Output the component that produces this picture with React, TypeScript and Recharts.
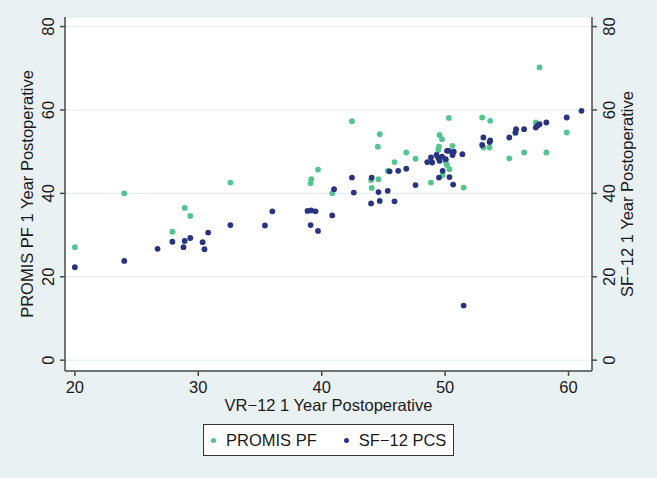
import { ScatterChart, Scatter, XAxis, YAxis, CartesianGrid, Legend } from "recharts";

// VR-12 score for each patient (x), with the two comparison scores (null = not plotted)
const vr12 = [
  20.0, 24.0, 26.7, 27.9, 28.8, 28.9, 29.35, 30.35, 30.5, 30.8,
  32.6, 35.4, 36.0, 38.85, 39.1, 39.15, 39.5, 39.7, 40.85, 41.0,
  42.45, 42.6, 44.0, 44.05, 44.55, 44.6, 44.7, 45.35, 45.5, 45.9,
  46.2, 46.85, 47.6, 48.55, 48.85, 48.95, 49.3, 49.45, 49.5, 49.55,
  49.75, 49.8, 50.05, 50.15, 50.3, 50.35, 50.6, 50.7, 50.65, 51.4,
  51.5, 53.0, 53.1, 53.6, 53.65, 55.2, 55.7, 55.75, 56.4, 57.35,
  57.5, 57.65, 58.2, 59.85, 61.05,
];

const promisPF = [
  27.1, 40.0, null, 30.8, null, 36.5, 34.6, null, null, null,
  42.6, null, null, null, 42.4, 43.4, null, 45.7, 40.0, null,
  57.3, null, 43.2, 41.3, 51.2, 43.4, 54.2, 45.4, null, 47.5,
  null, 49.8, 48.3, null, 42.6, null, null, 50.4, 51.2, 54.0,
  53.0, 44.4, 47.6, 46.8, 58.1, 45.8, 51.4, null, null, null,
  41.4, 58.2, 51.0, 51.0, 57.4, 48.4, 54.5, null, 49.8, 57.0,
  null, 70.2, 49.8, 54.6, null,
];

const sf12PCS = [
  22.3, 23.8, 26.7, 28.4, 27.1, 28.6, 29.3, 28.3, 26.6, 30.6,
  32.4, 32.3, 35.7, 35.8, 32.4, 35.9, 35.7, 31.0, 34.7, 41.0,
  43.8, 40.2, 37.6, 43.8, null, 40.3, 38.2, 40.6, 45.3, 38.1,
  45.4, 45.9, 42.0, 47.5, 48.6, 47.4, 49.2, 48.5, 43.8, 47.8,
  48.8, 45.4, 48.2, 50.2, 50.2, 43.9, 49.2, 50.0, 42.1, 49.4,
  13.1, 51.6, 53.4, 52.3, 52.7, 53.4, 54.6, 55.4, 55.4, 55.8,
  56.3, 56.6, 57.0, 58.2, 59.8,
];

const xTicks = [20, 30, 40, 50, 60];
const yTicks = [0, 20, 40, 60, 80];

const GREEN = "#52c58e";
const NAVY = "#283382";
const BG = "#eaf1f2";
const AXIS = "#4a4a4a";
const TEXT = "#1a1a1a";
const FONT = '"Liberation Sans", Arial, Helvetica, sans-serif';
const FS = 16.5;

const promisData = vr12
  .map((x, i) => ({ x, y: promisPF[i] }))
  .filter((d) => d.y !== null);
const sfData = vr12
  .map((x, i) => ({ x, y: sf12PCS[i] }))
  .filter((d) => d.y !== null);

const XTick = (props: any) => (
  <text x={props.x} y={props.y + 17} textAnchor="middle" fill={TEXT} fontSize={FS} fontFamily={FONT}>
    {props.payload.value}
  </text>
);

const LeftTick = (props: any) => (
  <text
    transform={`translate(${props.x - 6},${props.y}) rotate(-90)`}
    textAnchor="middle"
    fill={TEXT}
    fontSize={FS}
    fontFamily={FONT}
  >
    {props.payload.value}
  </text>
);

const RightTick = (props: any) => (
  <text
    transform={`translate(${props.x + 18},${props.y}) rotate(-90)`}
    textAnchor="middle"
    fill={TEXT}
    fontSize={FS}
    fontFamily={FONT}
  >
    {props.payload.value}
  </text>
);

const dot = (color: string) => (p: any) => <circle cx={p.cx} cy={p.cy} r={2.9} fill={color} />;

function LegendBox({ payload }: any) {
  const items = payload && payload.length ? payload : [
    { value: "PROMIS PF", color: GREEN },
    { value: "SF−12 PCS", color: NAVY },
  ];
  return (
    <div
      style={{
        boxSizing: "border-box",
        width: 251,
        height: 32,
        border: "1.5px solid #333",
        background: "#fff",
        display: "flex",
        alignItems: "center",
        paddingLeft: 7,
        fontFamily: FONT,
        fontSize: FS,
        color: TEXT,
      }}
    >
      {items.map((entry: any, index: number) => (
        <div key={index} style={{ display: "flex", alignItems: "center", marginRight: index === 0 ? 27 : 0 }}>
          <span
            style={{ width: 5, height: 5, borderRadius: "50%", background: entry.color, marginRight: 10 }}
          />
          <span>{entry.value}</span>
        </div>
      ))}
    </div>
  );
}

export default function App() {
  return (
    <div style={{ position: "fixed", left: 0, top: 0, width: 657, height: 478, background: BG }}>
      <ScatterChart width={657} height={478} margin={{ top: 17, right: 0, bottom: 47, left: 0 }}>
        <CartesianGrid yAxisId="left" vertical={false} stroke="#e1eaed" fill="#fff" />
        <XAxis
          type="number"
          dataKey="x"
          domain={[19.2, 61.9]}
          allowDataOverflow
          ticks={xTicks}
          height={60}
          tickSize={5}
          tickMargin={0}
          stroke={AXIS}
          strokeWidth={1.5}
          tick={<XTick />}
          label={{
            content: (p: any) => (
              <text
                x={p.viewBox.x + p.viewBox.width / 2}
                y={p.viewBox.y + 40}
                textAnchor="middle"
                fill={TEXT}
                fontSize={FS}
                fontFamily={FONT}
              >
                VR−12 1 Year Postoperative
              </text>
            ),
          }}
        />
        <YAxis
          yAxisId="left"
          type="number"
          dataKey="y"
          domain={[-2.6, 82.3]}
          allowDataOverflow
          ticks={yTicks}
          width={65}
          tickSize={5}
          tickMargin={0}
          stroke={AXIS}
          strokeWidth={1.5}
          tick={<LeftTick />}
          label={{
            content: (p: any) => (
              <text
                transform={`translate(33,${p.viewBox.y + p.viewBox.height / 2}) rotate(-90)`}
                textAnchor="middle"
                fill={TEXT}
                fontSize={FS}
                fontFamily={FONT}
              >
                PROMIS PF 1 Year Postoperative
              </text>
            ),
          }}
        />
        <YAxis
          yAxisId="right"
          orientation="right"
          type="number"
          dataKey="y"
          domain={[-2.6, 82.3]}
          allowDataOverflow
          ticks={yTicks}
          width={65}
          tickSize={5}
          tickMargin={0}
          stroke={AXIS}
          strokeWidth={1.5}
          tick={<RightTick />}
          label={{
            content: (p: any) => (
              <text
                transform={`translate(633,${p.viewBox.y + p.viewBox.height / 2}) rotate(-90)`}
                textAnchor="middle"
                fill={TEXT}
                fontSize={FS}
                fontFamily={FONT}
              >
                SF−12 1 Year Postoperative
              </text>
            ),
          }}
        />
        <Legend
          layout="horizontal"
          align="center"
          verticalAlign="middle"
          wrapperStyle={{ left: 203, top: 424, width: 251, height: 32 }}
          content={<LegendBox />}
        />
        <Scatter
          name="PROMIS PF"
          yAxisId="left"
          data={promisData}
          fill={GREEN}
          shape={dot(GREEN)}
          isAnimationActive={false}
        />
        <Scatter
          name="SF−12 PCS"
          yAxisId="right"
          data={sfData}
          fill={NAVY}
          shape={dot(NAVY)}
          isAnimationActive={false}
        />
      </ScatterChart>
    </div>
  );
}
